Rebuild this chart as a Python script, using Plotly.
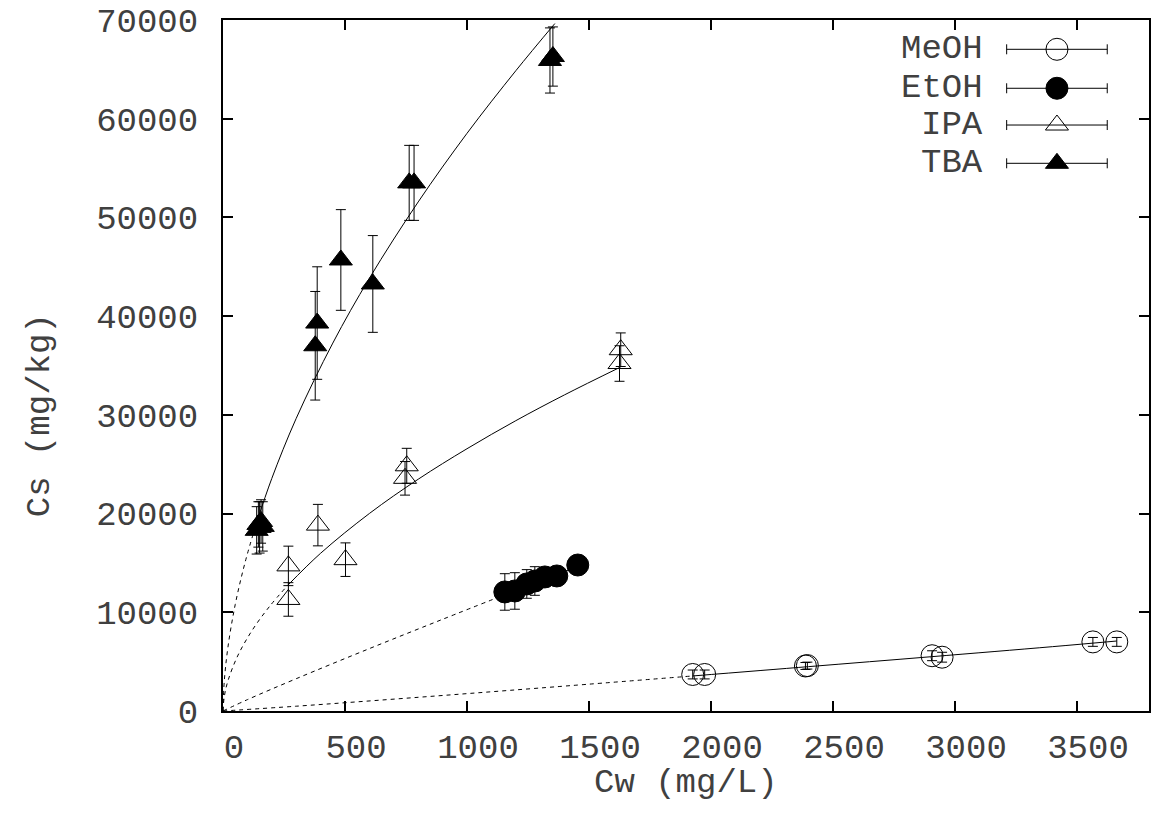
import plotly.graph_objects as go

# ---------------- data ----------------
meoh_cw = [1925, 1974, 2387, 2395, 2906, 2947, 3565, 3663]
meoh_cs = [3700, 3700, 4560, 4600, 5600, 5450, 7000, 7000]
meoh_err = [450, 450, 350, 350, 500, 500, 450, 450]

etoh_cw = [1155, 1196, 1245, 1278, 1319, 1368, 1454]
etoh_cs = [12060, 12160, 12870, 13170, 13580, 13680, 14790]
etoh_err = [1850, 1850, 1450, 1450, 600, 600, 600]

ipa_cw = [268, 268, 389, 502, 746, 753, 1625, 1630]
ipa_cs = [14700, 11300, 18830, 15330, 23570, 24840, 35200, 36600]
ipa_err = [2000, 1700, 2100, 1700, 1700, 1770, 1800, 1700]

tba_cw = [138, 145, 150, 156, 163, 378, 386, 483, 614, 763, 783, 1340, 1352]
tba_cs = [18300, 18900, 18600, 19200, 18700, 37000, 39300, 45690, 43260,
          53500, 53500, 65900, 66300]
tba_err = [2400, 2300, 2600, 2200, 2500, 5500, 5700, 5100, 4900,
           3800, 3800, 3300, 3000]

# fitted isotherm curves (dashed = extrapolation)
meoh_fit_dash_x = [0, 300, 800, 1300, 1925]
meoh_fit_dash_y = [0, 485, 1387, 2331, 3550]
meoh_fit_x = [1925, 2400, 2900, 3400, 3663]
meoh_fit_y = [3550, 4495, 5495, 6519, 7090]

etoh_fit_dash_x = [0, 100, 300, 600, 900, 1155]
etoh_fit_dash_y = [0, 1151, 3271, 6322, 9290, 11780]
etoh_fit_x = [1155, 1300, 1454]
etoh_fit_y = [11780, 13170, 14650]

ipa_fit_dash_x = [0, 5, 20, 60, 120, 190, 265]
ipa_fit_dash_y = [0, 1403, 3030, 5575, 8190, 10570, 12720]
ipa_fit_x = [265, 400, 600, 800, 1000, 1200, 1400, 1630]
ipa_fit_y = [12720, 15980, 20010, 23480, 26570, 29410, 32030, 34850]

tba_fit_dash_x = [0, 5, 20, 50, 90, 138]
tba_fit_dash_y = [0, 2930, 6420, 10770, 15010, 19100]
tba_fit_x = [138, 200, 300, 450, 600, 800, 1000, 1200, 1360]
tba_fit_y = [19100, 23560, 29640, 37270, 43840, 51570, 58520, 64860, 69640]

series_names = ["MeOH", "EtOH", "IPA", "TBA"]
x_ticks = [0, 500, 1000, 1500, 2000, 2500, 3000, 3500]
y_ticks = [0, 10000, 20000, 30000, 40000, 50000, 60000, 70000]

# ---------------- styling ----------------
FONT = "Liberation Mono, Courier New, monospace"
FS = 34
TXT = "#404040"
symbols = {"MeOH": "circle-open", "EtOH": "circle",
           "IPA": "triangle-up-open", "TBA": "triangle-up"}
msize = {"MeOH": 22, "EtOH": 22, "IPA": 20, "TBA": 20}

fig = go.Figure()

fits = [
    (meoh_fit_dash_x, meoh_fit_dash_y, meoh_fit_x, meoh_fit_y),
    (etoh_fit_dash_x, etoh_fit_dash_y, etoh_fit_x, etoh_fit_y),
    (ipa_fit_dash_x, ipa_fit_dash_y, ipa_fit_x, ipa_fit_y),
    (tba_fit_dash_x, tba_fit_dash_y, tba_fit_x, tba_fit_y),
]
for dx, dy, sx, sy in fits:
    fig.add_trace(go.Scatter(x=dx, y=dy, mode="lines", showlegend=False,
                             line=dict(color="black", width=1, dash="4px,4px",
                                       shape="spline"), hoverinfo="skip"))
    fig.add_trace(go.Scatter(x=sx, y=sy, mode="lines", showlegend=False,
                             line=dict(color="black", width=1, shape="spline"),
                             hoverinfo="skip"))

data = [
    ("MeOH", meoh_cw, meoh_cs, meoh_err),
    ("EtOH", etoh_cw, etoh_cs, etoh_err),
    ("IPA", ipa_cw, ipa_cs, ipa_err),
    ("TBA", tba_cw, tba_cs, tba_err),
]
for name, xs, ys, es in data:
    fig.add_trace(go.Scatter(
        x=xs, y=ys, mode="markers", name=name, showlegend=False,
        marker=dict(symbol=symbols[name], size=msize[name], color="black",
                    line=dict(color="black", width=1)),
        error_y=dict(type="data", array=es, visible=True, color="black",
                     thickness=1, width=5)))

# ---------------- hand-built legend (gnuplot style: text then sample) ----
leg_rows = [0.9576, 0.9012, 0.848, 0.7926]
for name, yy in zip(series_names, leg_rows):
    fig.add_trace(go.Scatter(
        x=[0.9006], y=[yy], xaxis="x2", yaxis="y2", mode="markers",
        showlegend=False, hoverinfo="skip",
        marker=dict(symbol=symbols[name], size=msize[name], color="black",
                    line=dict(color="black", width=1)),
        error_x=dict(type="constant", value=0.0543, visible=True,
                     color="black", thickness=1, width=5)))
    fig.add_annotation(x=0.823, y=yy, xref="x2", yref="y2", text=name,
                       showarrow=False, xanchor="right", yanchor="middle",
                       font=dict(family=FONT, size=FS, color=TXT))

fig.add_annotation(x=-0.1976, y=0.428, xref="paper", yref="paper",
                   text="Cs (mg/kg)", textangle=-90, showarrow=False,
                   xanchor="center", yanchor="middle",
                   font=dict(family=FONT, size=FS, color=TXT))
fig.add_annotation(x=0.5, y=-0.104, xref="paper", yref="paper",
                   text="Cw (mg/L)", showarrow=False,
                   xanchor="center", yanchor="middle",
                   font=dict(family=FONT, size=FS, color=TXT))

axis_common = dict(showline=True, linecolor="black", linewidth=2,
                   mirror="allticks", ticks="inside", ticklen=10,
                   tickwidth=1.5, tickcolor="black", showgrid=False,
                   zeroline=False, automargin=False,
                   tickfont=dict(family=FONT, size=FS, color=TXT))

fig.update_layout(
    width=1151, height=829,
    paper_bgcolor="white", plot_bgcolor="white",
    margin=dict(l=223, r=2, t=20, b=118),
    showlegend=False,
    xaxis=dict(range=[0, 3795], tickvals=x_ticks,
               ticktext=[str(v) for v in x_ticks],
               ticklabelshift=11, ticklabelstandoff=4,
               **axis_common),
    yaxis=dict(range=[0, 70000], tickvals=y_ticks,
               ticktext=[str(v) for v in y_ticks],
               ticklabelstandoff=16, **axis_common),
    xaxis2=dict(range=[0, 1], overlaying="x", visible=False, fixedrange=True),
    yaxis2=dict(range=[0, 1], overlaying="y", visible=False, fixedrange=True),
)

fig.write_html("out.html", config={"displayModeBar": False},
               post_script="document.body.style.margin='0';"
                           "document.body.style.overflow='hidden';")
